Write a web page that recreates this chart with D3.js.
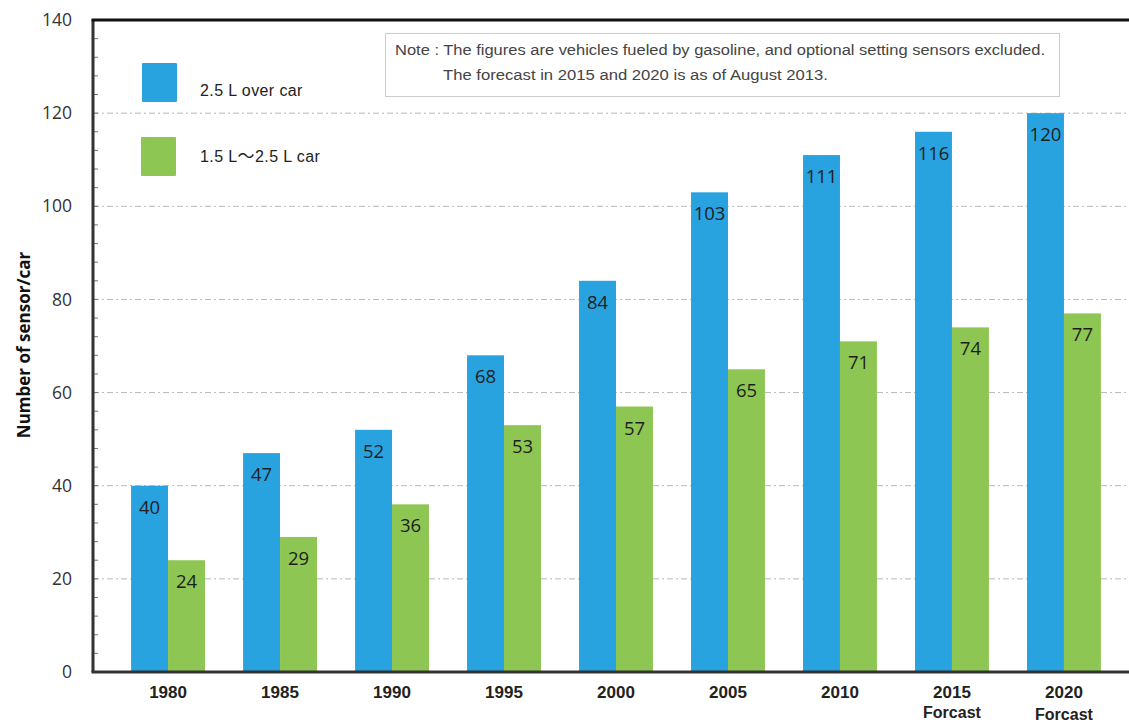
<!DOCTYPE html>
<html>
<head>
<meta charset="utf-8">
<script src="https://cdn.jsdelivr.net/npm/d3@7/dist/d3.min.js"></script>
<style>
  html, body { margin: 0; padding: 0; background: #fff; }
  svg { display: block; }
</style>
</head>
<body>
<svg id="chart" width="1129" height="722"></svg>
<script>
// Sensors per car, by model year
const years = ["1980", "1985", "1990", "1995", "2000", "2005", "2010", "2015", "2020"];
const subLabels = ["", "", "", "", "", "", "", "Forcast", "Forcast"];
const over25 = [40, 47, 52, 68, 84, 103, 111, 116, 120];
const mid1525 = [24, 29, 36, 53, 57, 65, 71, 74, 77];
const seriesNames = [["2.5 L over car"], ["1.5 L", "\u301C", "2.5 L car"]];
const yTicks = [0, 20, 40, 60, 80, 100, 120, 140];
const noteLines = [
  "Note : The figures are vehicles fueled by gasoline, and optional setting sensors excluded.",
  "The forecast in 2015 and 2020 is as of August 2013."
];

const colors = ["#29a3df", "#8ec653"];

const svg = d3.select("#chart");
const plotLeft = 93, plotTop = 20, plotBottom = 672, plotRight = 1139;

const y = d3.scaleLinear().domain([0, 140]).range([plotBottom, plotTop]);
const x = d3.scaleBand().domain(years).range([plotLeft, plotRight]).paddingInner(0.34).paddingOuter(0.34);
const xs = d3.scaleBand().domain([0, 1]).range([0, x.bandwidth()]);

// dash-dot gridlines
svg.append("g")
  .selectAll("line")
  .data(yTicks.filter(d => d > 0 && d < 140))
  .join("line")
  .attr("x1", plotLeft).attr("x2", 1129)
  .attr("y1", d => y(d)).attr("y2", d => y(d))
  .attr("stroke", "#b8b8b8")
  .attr("stroke-width", 1)
  .attr("stroke-dasharray", "6,3,2,3");

// bars
const series = [over25, mid1525];
series.forEach((vals, si) => {
  const g = svg.append("g");
  g.selectAll("rect")
    .data(vals)
    .join("rect")
    .attr("x", (d, i) => x(years[i]) + xs(si))
    .attr("y", d => y(d))
    .attr("width", xs.bandwidth())
    .attr("height", d => y(0) - y(d))
    .attr("fill", colors[si]);
  g.selectAll("text")
    .data(vals)
    .join("text")
    .attr("x", (d, i) => x(years[i]) + xs(si) + xs.bandwidth() / 2)
    .attr("y", d => y(d) + 28)
    .attr("text-anchor", "middle")
    .attr("font-family", "'Open Sans', sans-serif")
    .attr("font-size", 18.5)
    .attr("fill", "#1e1e1e")
    .text(d => d);
});

// left axis with minor ticks every 4
const yAxis = d3.axisLeft(y).tickValues(yTicks).tickSize(0).tickPadding(21);
const ya = svg.append("g").attr("transform", `translate(${plotLeft},0)`).call(yAxis);
ya.select(".domain").remove();
ya.selectAll("text")
  .attr("font-family", "'Open Sans', sans-serif")
  .attr("font-size", 17.5)
  .attr("fill", "#333");

svg.append("g")
  .selectAll("line")
  .data(d3.range(4, 140, 4))
  .join("line")
  .attr("x1", plotLeft).attr("x2", plotLeft + 5)
  .attr("y1", d => y(d)).attr("y2", d => y(d))
  .attr("stroke", "#777").attr("stroke-width", 1);

// frame lines
svg.append("line").attr("x1", plotLeft).attr("x2", plotLeft).attr("y1", plotTop).attr("y2", plotBottom)
  .attr("stroke", "#333").attr("stroke-width", 3);
svg.append("line").attr("x1", plotLeft - 1.5).attr("x2", 1129).attr("y1", plotTop).attr("y2", plotTop)
  .attr("stroke", "#111").attr("stroke-width", 3);
svg.append("line").attr("x1", plotLeft - 1.5).attr("x2", 1129).attr("y1", plotBottom).attr("y2", plotBottom)
  .attr("stroke", "#333").attr("stroke-width", 3);

// category labels
const xa = svg.append("g").attr("transform", `translate(0,${plotBottom})`)
  .call(d3.axisBottom(x).tickSize(0).tickPadding(14));
xa.select(".domain").remove();
xa.selectAll("text")
  .attr("font-family", "'Liberation Sans', Arial, sans-serif")
  .attr("font-weight", "bold")
  .attr("font-size", 17)
  .attr("fill", "#222");
svg.append("g")
  .selectAll("text")
  .data(years.filter((d, i) => subLabels[i]))
  .join("text")
  .attr("x", d => x(d) + x.bandwidth() / 2)
  .attr("y", (d, i) => 718 + i * 2)
  .attr("text-anchor", "middle")
  .attr("font-family", "'Liberation Sans', Arial, sans-serif")
  .attr("font-weight", "bold")
  .attr("font-size", 16)
  .attr("fill", "#222")
  .text(d => subLabels[years.indexOf(d)]);

// y axis title
svg.append("text")
  .attr("transform", "translate(30,345) rotate(-90)")
  .attr("text-anchor", "middle")
  .attr("font-family", "'Open Sans', sans-serif")
  .attr("font-weight", "bold")
  .attr("font-size", 17)
  .attr("fill", "#111")
  .text("Number of sensor/car");

// legend
const legend = svg.append("g");
const legendRows = [{ sx: 142, sy: 63, ty: 96 }, { sx: 141, sy: 137, ty: 162 }];
legendRows.forEach((p, i) => {
  legend.append("rect").attr("x", p.sx).attr("y", p.sy).attr("width", 35).attr("height", 39)
    .attr("rx", 1).attr("fill", colors[i]);
  const t = legend.append("text").attr("x", 200).attr("y", p.ty)
    .attr("font-family", "'Liberation Sans', Arial, sans-serif")
    .attr("font-size", 16)
    .attr("letter-spacing", 0.4)
    .attr("fill", "#222");
  seriesNames[i].forEach(part => {
    const ts = t.append("tspan").text(part);
    if (part === "\u301C") ts.attr("font-family", "'Noto Sans CJK JP', sans-serif").attr("font-size", 17);
  });
});

// note box
svg.append("rect").attr("x", 385.5).attr("y", 33.5).attr("width", 674).attr("height", 63)
  .attr("fill", "#fff").attr("stroke", "#ccc").attr("stroke-width", 1);
svg.append("text").attr("x", 395).attr("y", 55)
  .attr("font-family", "'Liberation Sans Narrow', 'Liberation Sans', sans-serif")
  .attr("font-size", 14).attr("fill", "#444")
  .attr("textLength", 650).attr("lengthAdjust", "spacingAndGlyphs")
  .text(noteLines[0]);
svg.append("text").attr("x", 443).attr("y", 80)
  .attr("font-family", "'Liberation Sans Narrow', 'Liberation Sans', sans-serif")
  .attr("font-size", 14).attr("fill", "#444")
  .attr("textLength", 385).attr("lengthAdjust", "spacingAndGlyphs")
  .text(noteLines[1]);
</script>
</body>
</html>
